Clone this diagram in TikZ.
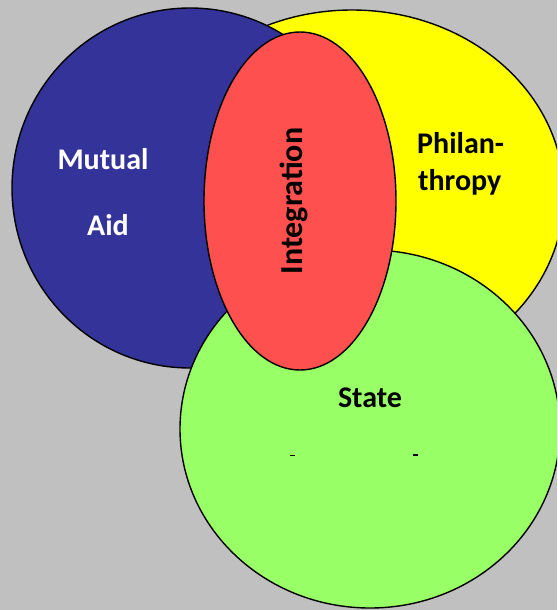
\documentclass[tikz,border=0pt]{standalone}
\usepackage{fontspec}
\setmainfont{Carlito}
\definecolor{bggray}{HTML}{C0C0C0}
\definecolor{aidblue}{HTML}{333399}
\definecolor{philyellow}{HTML}{FFFF00}
\definecolor{stategreen}{HTML}{99FF66}
\definecolor{integred}{HTML}{FF5050}
\begin{document}
\begin{tikzpicture}[x=1pt,y=-1pt,
  setshape/.style={draw=black,line width=1.4pt},
  lbl/.style={font=\bfseries\fontsize{30}{36}\selectfont,inner sep=0pt}]
\useasboundingbox (0,0) rectangle (557,610);
\clip (0,0) rectangle (557,610);
\fill[bggray] (0,0) rectangle (557,610);
% the three overlapping sectors, back to front
\draw[setshape,fill=philyellow] (352,195) ellipse [x radius=212pt, y radius=185pt];
\draw[setshape,fill=aidblue] (190,188) ellipse [x radius=178pt, y radius=180pt];
\draw[setshape,fill=stategreen] (370,429) ellipse [x radius=190pt, y radius=179pt];
% integration zone on top
\draw[setshape,fill=integred] (300,201) ellipse [x radius=96pt, y radius=169pt];
% labels
\node[lbl,text=white,anchor=base] (mutual) at (103,169) {Mutual};
\node[lbl,text=white,anchor=base] (aid) at (108,235) {Aid};
\node[lbl,anchor=base,rotate=90,font=\bfseries\fontsize{32}{38}\selectfont] (integration) at (302,201) {Integration};
\node[lbl,anchor=base west] (philan) at (417,153) {Philan-};
\node[lbl,anchor=base west] (thropy) at (418,190) {thropy};
\node[lbl,anchor=base] (state) at (370,407) {State};
% two stray marks
\draw[line width=1pt] (290,455) -- (295,455);
\draw[line width=1.6pt] (413,455) -- (418,455);
\end{tikzpicture}
\end{document}
